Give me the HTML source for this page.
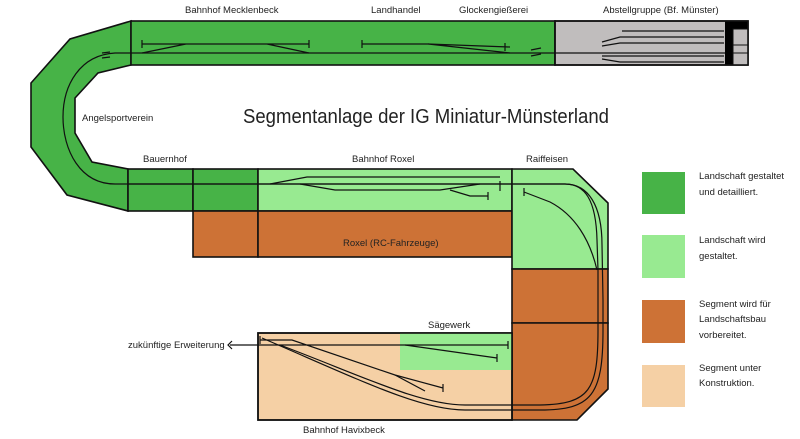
<!DOCTYPE html>
<html><head><meta charset="utf-8"><style>
html,body{margin:0;padding:0;background:#fff;width:800px;height:439px;overflow:hidden}
svg{display:block}
text{font-family:"Liberation Sans","DejaVu Sans",sans-serif;fill:#222}
</style></head><body>
<svg width="800" height="439" viewBox="0 0 800 439" xmlns="http://www.w3.org/2000/svg">
<g stroke="#111" stroke-width="1.6" stroke-linejoin="miter">
<polygon fill="#47b347" points="131,21 70,39 31,83 31,147 67,195 128,211 128,169 92,162 75,133 75,98 98,73 131,65"/>
<rect x="131" y="21" width="424" height="44" fill="#47b347"/>
<rect x="555" y="21" width="193" height="44" fill="#c0bdbd"/>
<rect x="725" y="21" width="8" height="44" fill="#000" stroke="none"/>
<rect x="733" y="21" width="15" height="8" fill="#000" stroke="none"/>
<rect x="733" y="29" width="15" height="36" fill="#c0bdbd" stroke="#111" stroke-width="1"/>
<rect x="733" y="45" width="15" height="8" fill="#c0bdbd" stroke="#111" stroke-width="1"/>
<rect x="555" y="21" width="193" height="44" fill="none"/>
<rect x="128" y="169" width="65" height="42" fill="#47b347"/>
<rect x="193" y="169" width="65" height="42" fill="#47b347"/>
<rect x="258" y="169" width="254" height="42" fill="#98ea91"/>
<rect x="193" y="211" width="65" height="46" fill="#cd7236"/>
<rect x="258" y="211" width="254" height="46" fill="#cd7236"/>
<polygon fill="#98ea91" points="512,169 573,169 608,203 608,269 512,269"/>
<rect x="512" y="269" width="96" height="54" fill="#cd7236"/>
<polygon fill="#cd7236" points="512,323 608,323 608,389 577,420 512,420"/>
<rect x="258" y="333" width="254" height="87" fill="#f5d0a5"/>
<rect x="400" y="333" width="112" height="37" fill="#98ea91" stroke="none"/>
<rect x="258" y="333" width="254" height="87" fill="none"/>
</g>
<g stroke="#111" stroke-width="1.2" fill="none">
<path d="M131,53 L555,53 L725,53"/>
<path d="M131,53 L115,53 C80,55 63,85 63,117 C63,150 80,184 115,184 L128,184"/>
<path d="M102,53 L110,52 M102,58 L110,57"/>
<path d="M128,184 L565,184 C585,184 596,200 597,240 L598,270 L598,330 C598,390 590,404 540,405 L465,405 C420,405 360,375 280,345"/>
<path d="M128,184 L565,184 C588,184 602,205 602,245 L603,300 L603,330 C603,395 592,410 540,410 L465,410 C420,410 360,380 262,338"/>
<path d="M142,44 L309,44 M142,40 v8 M309,40 v8 M142,53 L186,44 M267,44 L309,53"/>
<path d="M362,44 L428,44 L510,47 M362,40 v8 M428,44 L510,53 M505,43 v8"/>
<path d="M531,50 L541,48 M531,56 L541,54"/>
<path d="M602,46 L620,43 L724,43 M602,42 L620,37 L724,37 M622,31 L724,31 M602,59 L620,62 L724,62 M602,56 L724,56"/>
<path d="M270,184 L307,177 L500,177 M300,184 L335,190 L440,190 L480,184 M500,181 L500,191 M450,190 L470,196 L488,196 M488,192 v8"/>
<path d="M524,192 L550,202 C575,215 590,240 597,270 M524,188 v8"/>
<path d="M230,345 L508,345 M260,340 L292,340 L395,375 L443,388 M260,336 v8 M508,341 v8 M443,384 v8"/>
<path d="M405,345 L497,358 M497,354 v8 M395,375 L425,391"/>
<path d="M232,341 L228,345 L232,349"/>
</g>
<g font-size="9.5">
<text x="185" y="13">Bahnhof Mecklenbeck</text>
<text x="371" y="13">Landhandel</text>
<text x="459" y="13">Glockengießerei</text>
<text x="603" y="13">Abstellgruppe (Bf. Münster)</text>
<text x="82" y="121">Angelsportverein</text>
<text x="143" y="162">Bauernhof</text>
<text x="352" y="162">Bahnhof Roxel</text>
<text x="526" y="162">Raiffeisen</text>
<text x="343" y="246">Roxel (RC-Fahrzeuge)</text>
<text x="428" y="328">Sägewerk</text>
<text x="128" y="348">zukünftige Erweiterung</text>
<text x="303" y="433">Bahnhof Havixbeck</text>
</g>
<text x="243" y="123" font-size="20" textLength="366" lengthAdjust="spacingAndGlyphs">Segmentanlage der IG Miniatur-Münsterland</text>
<rect x="642" y="172" width="43" height="42" fill="#47b347"/>
<rect x="642" y="235" width="43" height="43" fill="#98ea91"/>
<rect x="642" y="300" width="43" height="43" fill="#cd7236"/>
<rect x="642" y="365" width="43" height="42" fill="#f5d0a5"/>
<g font-size="9.5">
<text x="699" y="179">Landschaft gestaltet</text>
<text x="699" y="195">und detailliert.</text>
<text x="699" y="243">Landschaft wird</text>
<text x="699" y="259">gestaltet.</text>
<text x="699" y="307">Segment wird für</text>
<text x="699" y="322">Landschaftsbau</text>
<text x="699" y="338">vorbereitet.</text>
<text x="699" y="371">Segment unter</text>
<text x="699" y="386">Konstruktion.</text>
</g>
</svg>
</body></html>
